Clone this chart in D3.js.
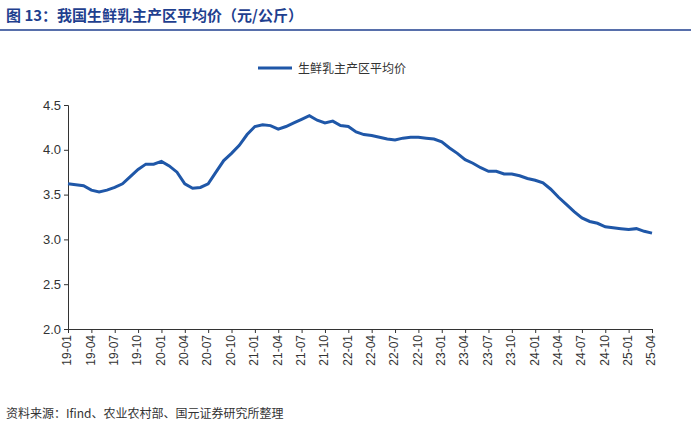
<!DOCTYPE html><html><head><meta charset="utf-8"><script src="https://cdn.jsdelivr.net/npm/d3@7"></script>
<style>body{margin:0;background:#fff;font-family:"Noto Sans CJK SC","Noto Sans",sans-serif}</style></head><body><svg width="691" height="427"></svg>
<script>
const months=[];for(let y=19;y<=25;y++)for(let m=1;m<=12;m++){if(y===25&&m>4)break;months.push(y+"-"+String(m).padStart(2,"0"));}
const values=[3.62,3.61,3.60,3.55,3.53,3.55,3.58,3.62,3.70,3.78,3.84,3.84,
3.87,3.82,3.75,3.62,3.57,3.58,3.62,3.75,3.88,3.96,4.05,4.17,
4.26,4.28,4.27,4.23,4.26,4.30,4.34,4.38,4.33,4.30,4.32,4.27,
4.26,4.20,4.17,4.16,4.14,4.12,4.11,4.13,4.14,4.14,4.13,4.12,
4.09,4.02,3.96,3.89,3.85,3.80,3.76,3.76,3.73,3.73,3.71,3.68,
3.66,3.63,3.56,3.47,3.39,3.31,3.24,3.20,3.18,3.14,3.13,3.12,
3.11,3.12,3.09,3.07];
const tickLabels=months.filter((d,i)=>i%3===0);
const yTicks=[2.0,2.5,3.0,3.5,4.0,4.5];
const svg=d3.select("svg");
svg.append("text").attr("x",6).attr("y",21).attr("fill","#1f3f8f").attr("font-weight","bold").attr("font-size",15).text("图 13：我国生鲜乳主产区平均价（元/公斤）");
svg.append("line").attr("x1",0).attr("x2",691).attr("y1",30).attr("y2",30).attr("stroke","#1f3f8f").attr("stroke-width",1.5);
const x=d3.scalePoint().domain(months).range([68,652]);
const y=d3.scaleLinear().domain([2,4.5]).range([329,105]);
svg.append("line").attr("x1",258).attr("x2",292).attr("y1",68).attr("y2",68).attr("stroke","#1f57a8").attr("stroke-width",3);
svg.append("text").attr("x",298).attr("y",73).attr("font-size",12).attr("fill","#333").text("生鲜乳主产区平均价");
const ya=svg.append("g").attr("transform","translate(68,0)").call(d3.axisLeft(y).tickValues(yTicks).tickFormat(d3.format(".1f")).tickSize(4));
ya.selectAll("text").attr("font-size",13).attr("fill","#333").attr("font-family","Arial,Liberation Sans,sans-serif");
const xa=svg.append("g").attr("transform","translate(0,329)").call(d3.axisBottom(x).tickValues(tickLabels).tickSize(4));
xa.selectAll("text").attr("font-size",12).attr("fill","#333").attr("font-family","Arial,Liberation Sans,sans-serif").attr("transform","rotate(-90)").attr("text-anchor","end").attr("dx","-0.5em").attr("dy","-0.35em");
svg.selectAll(".domain,.tick line").attr("stroke","#333");
svg.append("path").datum(values).attr("fill","none").attr("stroke","#1f57a8").attr("stroke-width",3)
.attr("d",d3.line().x((d,i)=>x(months[i])).y(d=>y(d)));
svg.append("text").attr("x",6).attr("y",418).attr("font-size",12).attr("fill","#333").text("资料来源：Ifind、农业农村部、国元证券研究所整理");
</script></body></html>
